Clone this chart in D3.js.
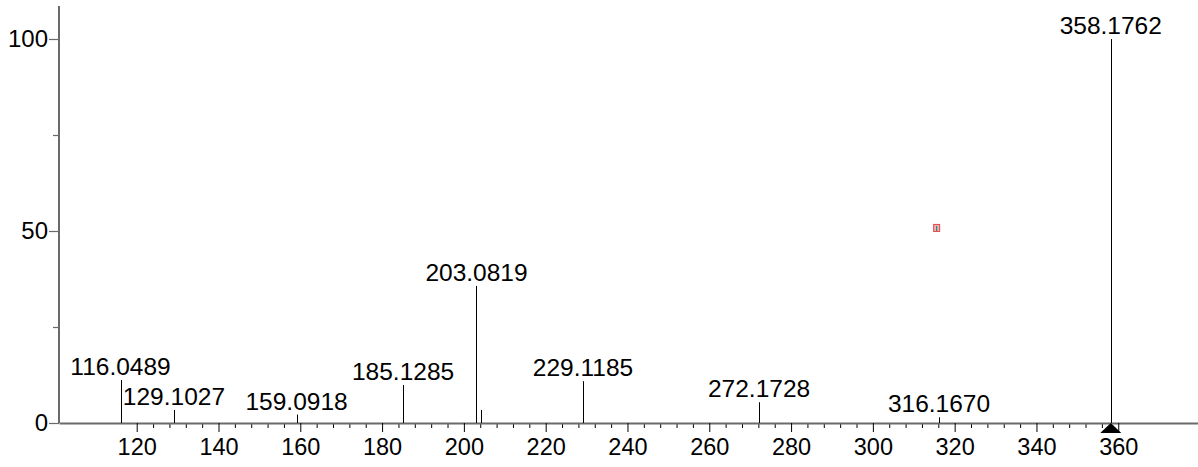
<!DOCTYPE html>
<html><head><meta charset="utf-8">
<script src="https://cdn.jsdelivr.net/npm/d3@7"></script>
<style>
html,body{margin:0;padding:0;background:#fff;}
svg{display:block;}
text{font-family:"Liberation Sans",Arial,Helvetica,sans-serif;fill:#000;}
</style></head>
<body>
<svg id="chart" width="1198" height="467"></svg>
<script>
const mzValues = [116.0489, 129.1027, 159.0918, 185.1285, 203.0819, 204.085, 229.1185, 272.1728, 316.1670, 358.1762];
const intensities = [11.2, 3.4, 2.2, 9.9, 35.7, 3.4, 10.9, 5.4, 1.5, 100];
const peakLabels = ["116.0489", "129.1027", "159.0918", "185.1285", "203.0819", "", "229.1185", "272.1728", "316.1670", "358.1762"];
const xTickValues = [120, 140, 160, 180, 200, 220, 240, 260, 280, 300, 320, 340, 360];
const yTickValues = [0, 50, 100];
const yMinorTicks = [25, 75];
const precursorMz = 358.1762;
const markerPoint = [315.6, 50.8];

const svg = d3.select("#chart");
const x = d3.scaleLinear().domain([101, 379.5]).range([59, 1198]);
const y = d3.scaleLinear().domain([0, 100]).range([423, 39]);
const axisColor = "#6a6a6a";

// minor x ticks (between first and last labelled tick)
const xMinor = d3.range(124, 360, 4).filter(v => v % 20 !== 0);
const gxm = svg.append("g").attr("transform", `translate(0,${y(0)})`)
  .call(d3.axisBottom(x).tickValues(xMinor).tickSize(5).tickFormat(""));
gxm.select(".domain").remove();
gxm.selectAll("line").attr("stroke", "#000").attr("stroke-width", 1);

// major x axis
const gx = svg.append("g").attr("transform", `translate(0,${y(0)})`)
  .call(d3.axisBottom(x).tickValues(xTickValues).tickSize(9).tickPadding(6).tickSizeOuter(0));
gx.select(".domain").attr("stroke", axisColor).attr("stroke-width", 2);
gx.selectAll(".tick line").attr("stroke", "#000").attr("stroke-width", 1);
gx.selectAll(".tick text").style("font-size", "23.5px").attr("fill", "#000");

// y axis
const gym = svg.append("g").attr("transform", `translate(${x.range()[0]},0)`)
  .call(d3.axisLeft(y).tickValues(yMinorTicks).tickSize(6).tickFormat(""));
gym.select(".domain").remove();
gym.selectAll("line").attr("stroke", axisColor).attr("stroke-width", 1.2);

const gy = svg.append("g").attr("transform", `translate(${x.range()[0]},0)`)
  .call(d3.axisLeft(y).tickValues(yTickValues).tickSize(10).tickPadding(1).tickSizeOuter(0));
gy.select(".domain").remove();
gy.selectAll(".tick line").attr("stroke", axisColor).attr("stroke-width", 1.2);
gy.selectAll(".tick text").style("font-size", "24px").attr("fill", "#000");
svg.append("line").attr("x1", x.range()[0]).attr("x2", x.range()[0])
  .attr("y1", 6).attr("y2", y(0)).attr("stroke", axisColor).attr("stroke-width", 2);

// peaks
const peaks = mzValues.map((m, i) => ({mz: m, it: intensities[i], label: peakLabels[i]}));
svg.append("g").selectAll("line").data(peaks).join("line")
  .attr("x1", d => Math.round(x(d.mz)) + 0.5).attr("x2", d => Math.round(x(d.mz)) + 0.5)
  .attr("y1", y(0)).attr("y2", d => y(d.it))
  .attr("stroke", "#000").attr("stroke-width", 1);

svg.append("g").selectAll("text").data(peaks.filter(d => d.label)).join("text")
  .attr("x", d => x(d.mz)).attr("y", d => y(d.it) - 5)
  .attr("text-anchor", "middle").style("font-size", "24.5px")
  .text(d => d.label);

// precursor triangle
const px = x(precursorMz), py = y(0);
svg.append("path")
  .attr("d", `M${px},${py} L${px - 10.5},${py + 10} L${px + 10.5},${py + 10} Z`)
  .attr("fill", "#000");

// small marker
const mx = x(markerPoint[0]), my = y(markerPoint[1]);
svg.append("rect").attr("x", mx - 3).attr("y", my - 3.5).attr("width", 6).attr("height", 7)
  .attr("fill", "#f4b0b0").attr("stroke", "#e04848").attr("stroke-width", 1);
svg.append("line").attr("x1", mx).attr("x2", mx).attr("y1", my - 2).attr("y2", my + 3)
  .attr("stroke", "#1a9090").attr("stroke-width", 1.2);
</script>
</body></html>
